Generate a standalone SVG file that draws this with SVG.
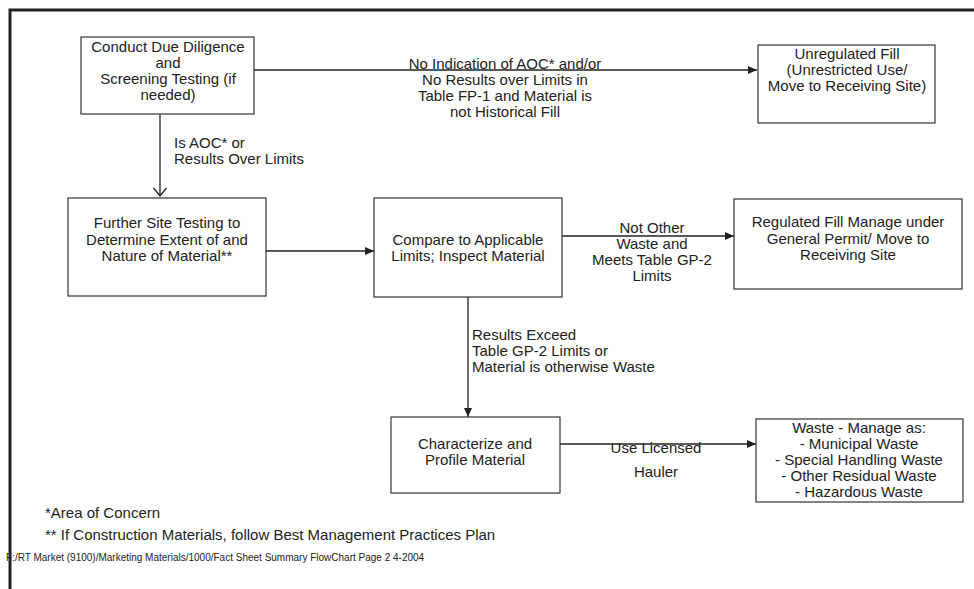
<svg xmlns="http://www.w3.org/2000/svg" width="974" height="589" viewBox="0 0 974 589">
<style>
.box{fill:#fff;stroke:#333;stroke-width:1.2}
.t{font-family:"Liberation Sans",Arial,sans-serif;font-size:15px;fill:#222}
.c{text-anchor:middle}
.ln{stroke:#222;stroke-width:1.3;fill:none}
.frame{stroke:#222;stroke-width:3;fill:none}
</style>
<defs>
<marker id="ah" markerWidth="9" markerHeight="8" refX="9" refY="4" orient="auto" markerUnits="userSpaceOnUse">
<path d="M0,0 L9,4 L0,8 Z" fill="#222"/>
</marker>
<marker id="ao" markerWidth="16" markerHeight="16" refX="14" refY="8" orient="auto" markerUnits="userSpaceOnUse">
<path d="M6,1.5 L14,8 L6,14.5" fill="none" stroke="#222" stroke-width="1.3"/>
</marker>
</defs>
<rect width="974" height="589" fill="#fff"/>
<path class="frame" d="M10,589 L10,10 L974,10"/>

<g id="connectors">
<line class="ln" x1="254" y1="70" x2="757" y2="70" marker-end="url(#ah)"/>
<line class="ln" x1="160" y1="114" x2="160" y2="196" marker-end="url(#ao)"/>
<line class="ln" x1="266" y1="251" x2="374" y2="251" marker-end="url(#ah)"/>
<line class="ln" x1="562" y1="236" x2="734" y2="236" marker-end="url(#ah)"/>
<line class="ln" x1="468" y1="297" x2="468" y2="417" marker-end="url(#ah)"/>
<line class="ln" x1="560" y1="444" x2="756" y2="444" marker-end="url(#ah)"/>
<g id="labels">
<text class="t c" x="505" y="69">No Indication of AOC* and/or</text>
<text class="t c" x="505" y="85">No Results over Limits in</text>
<text class="t c" x="505" y="101">Table FP-1 and Material is</text>
<text class="t c" x="505" y="117">not Historical Fill</text>
<text class="t" x="174" y="148">Is AOC* or</text>
<text class="t" x="174" y="164">Results Over Limits</text>
<text class="t c" x="652" y="233">Not Other</text>
<text class="t c" x="652" y="249">Waste and</text>
<text class="t c" x="652" y="265">Meets Table GP-2</text>
<text class="t c" x="652" y="281">Limits</text>
<text class="t" x="472" y="340">Results Exceed</text>
<text class="t" x="472" y="356">Table GP-2 Limits or</text>
<text class="t" x="472" y="372">Material is otherwise Waste</text>
<text class="t c" x="656" y="453">Use Licensed</text>
<text class="t c" x="656" y="477">Hauler</text>
</g>
</g>

<g id="n-due-diligence">
<rect class="box" x="81" y="37" width="173" height="77"/>
<text class="t c" x="168" y="52">Conduct Due Diligence</text>
<text class="t c" x="168" y="68">and</text>
<text class="t c" x="168" y="84">Screening Testing (if</text>
<text class="t c" x="168" y="100">needed)</text>
</g>

<g id="n-unregulated">
<rect class="box" x="758" y="45" width="177" height="78"/>
<text class="t c" x="847" y="59">Unregulated Fill</text>
<text class="t c" x="847" y="75">(Unrestricted Use/</text>
<text class="t c" x="847" y="91">Move to Receiving Site)</text>
</g>

<g id="n-further">
<rect class="box" x="68" y="198" width="198" height="98"/>
<text class="t c" x="167" y="228">Further Site Testing to</text>
<text class="t c" x="167" y="245">Determine Extent of and</text>
<text class="t c" x="167" y="261">Nature of Material**</text>
</g>

<g id="n-compare">
<rect class="box" x="374" y="198" width="188" height="99"/>
<text class="t c" x="468" y="245">Compare to Applicable</text>
<text class="t c" x="468" y="261">Limits; Inspect Material</text>
</g>

<g id="n-regulated">
<rect class="box" x="734" y="199" width="228" height="90"/>
<text class="t c" x="848" y="227">Regulated Fill Manage under</text>
<text class="t c" x="848" y="244">General Permit/ Move to</text>
<text class="t c" x="848" y="260">Receiving Site</text>
</g>

<g id="n-characterize">
<rect class="box" x="391" y="417" width="169" height="76"/>
<text class="t c" x="475" y="449">Characterize and</text>
<text class="t c" x="475" y="465">Profile Material</text>
</g>

<g id="n-waste">
<rect class="box" x="756" y="419" width="207" height="83"/>
<text class="t c" x="859" y="433">Waste - Manage as:</text>
<text class="t c" x="859" y="449">- Municipal Waste</text>
<text class="t c" x="859" y="465">- Special Handling Waste</text>
<text class="t c" x="859" y="481">- Other Residual Waste</text>
<text class="t c" x="859" y="497">- Hazardous Waste</text>
</g>

<g id="notes">
<text class="t" x="45" y="518">*Area of Concern</text>
<text class="t" x="45" y="540">** If Construction Materials, follow Best Management Practices Plan</text>
<text class="t" x="6" y="561" style="font-size:10px">F:/RT Market (9100)/Marketing Materials/1000/Fact Sheet Summary FlowChart Page 2 4-2004</text>
</g>
</svg>
